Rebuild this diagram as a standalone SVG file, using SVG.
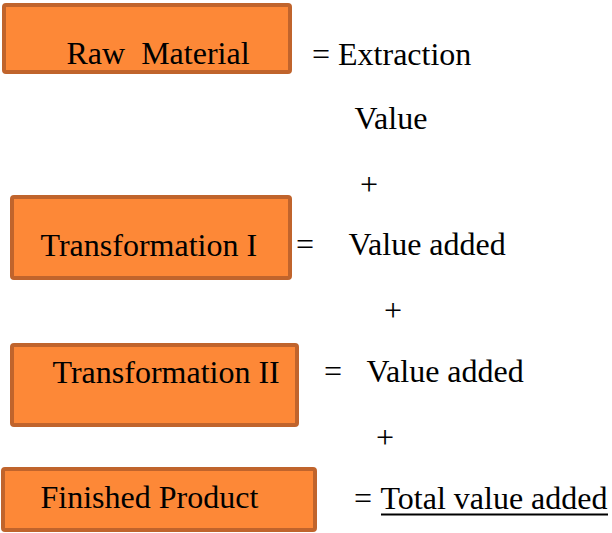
<svg xmlns="http://www.w3.org/2000/svg" width="612" height="533" viewBox="0 0 612 533">
<style>
.box{fill:#fd8837;stroke:#c0642c;stroke-width:4}
.t{font-family:'Liberation Serif','Times New Roman',Times,serif;font-size:32px;fill:#000}
</style>
<rect width="612" height="533" fill="#fff"/>
<g id="raw-material">
<rect class="box" x="4" y="5" width="286" height="67" rx="2"/>
<text class="t" x="66.5" y="64" xml:space="preserve">Raw  Material</text>
</g>
<g id="transformation-1">
<rect class="box" x="12" y="197" width="278" height="81" rx="2"/>
<text class="t" x="40.5" y="256">Transformation I</text>
</g>
<g id="transformation-2">
<rect class="box" x="12" y="345" width="285" height="80" rx="2"/>
<text class="t" x="52.5" y="383">Transformation II</text>
</g>
<g id="finished-product">
<rect class="box" x="3" y="469" width="312" height="61" rx="2"/>
<text class="t" x="40.5" y="508">Finished Product</text>
</g>
<g id="equations">
<text class="t" x="312" y="65">= Extraction</text>
<text class="t" x="354.5" y="129">Value</text>
<text class="t" x="360" y="195">+</text>
<text class="t" x="296" y="255">=</text>
<text class="t" x="348.5" y="255">Value added</text>
<text class="t" x="384" y="321">+</text>
<text class="t" x="324" y="382">=</text>
<text class="t" x="366.5" y="382">Value added</text>
<text class="t" x="376" y="448">+</text>
<text class="t" x="354" y="509">=</text>
<text class="t" x="380.5" y="509">Total value added</text>
<line x1="381" y1="514.5" x2="608" y2="514.5" stroke="#000" stroke-width="2"/>
</g>
</svg>
